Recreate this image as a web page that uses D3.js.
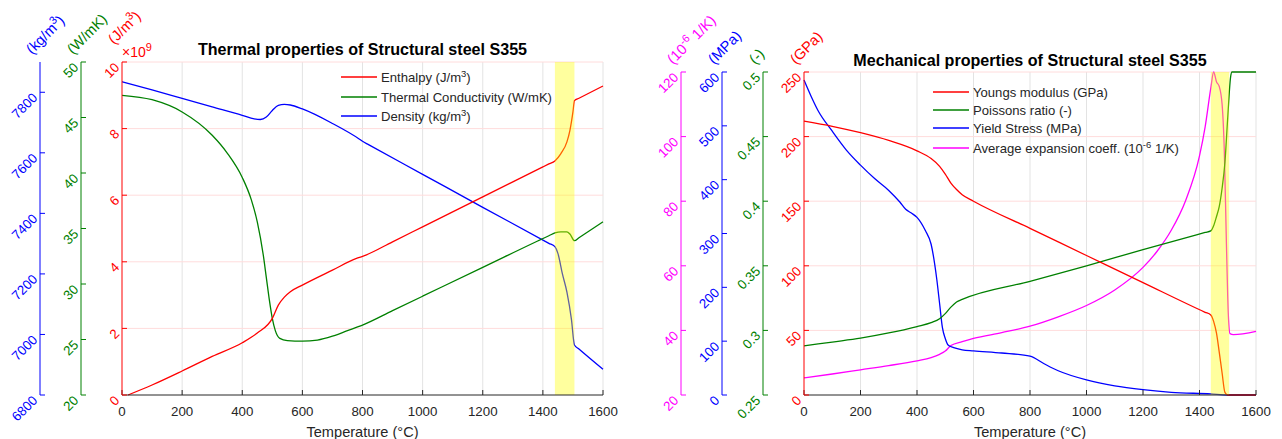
<!DOCTYPE html>
<html><head><meta charset="utf-8">
<script src="https://cdn.jsdelivr.net/npm/d3@7"></script>
<style>body{margin:0;background:#fff}svg{display:block;font-family:"Liberation Sans",Arial,sans-serif}</style>
</head><body><svg id="c" width="1282" height="439"></svg>
<script>
// ---------- data ----------
const xTicks = [0,200,400,600,800,1000,1200,1400,1600];
const meltRange = [1440, 1505];

// Thermal chart
const enthalpyT = [20,100,200,300,400,450,500,520,540,560,600,700,780,800,900,1000,1100,1200,1300,1400,1420,1440,1460,1480,1490,1500,1505,1520,1600];
const enthalpyV = [0,0.3,0.72,1.16,1.57,1.86,2.3,2.7,2.94,3.1,3.3,3.75,4.1,4.16,4.6,5.05,5.5,5.95,6.4,6.85,6.94,7.03,7.25,7.6,7.95,8.5,8.84,8.91,9.28];
const condT = [0,100,200,300,350,400,430,450,470,480,490,500,510,525,550,600,650,700,750,800,900,1000,1200,1420,1440,1460,1480,1490,1505,1520,1600];
const condV = [47.0,46.6,45.5,43.4,41.8,39.6,37.6,35.6,32.6,30.6,28.6,26.9,25.8,25.1,24.9,24.85,24.95,25.3,25.8,26.3,27.6,28.9,31.5,34.35,34.6,34.7,34.7,34.5,33.9,34.17,35.6];
const densT = [0,100,200,300,400,440,460,480,500,520,540,560,600,700,790,800,820,1000,1200,1420,1440,1450,1465,1480,1495,1505,1520,1600];
const densV = [7835,7808,7780,7752,7724,7712,7710,7718,7740,7757,7760,7758,7745,7697,7645,7638,7627,7529,7420,7301,7290,7268,7200,7140,7050,6965,6952,6885];
const enthalpyTicks = [0,2,4,6,8,10];
const condTicks = [20,25,30,35,40,45,50];
const densTicks = [6800,7000,7200,7400,7600,7800];

// Mechanical chart
const youngT = [0,100,200,300,400,450,480,500,520,540,560,600,800,1000,1200,1420,1440,1450,1460,1470,1480,1490,1500,1600];
const youngV = [212,208,203,197,189,183,177,171,164,159,155,150,129,108,87,64,62,57,48,33,17,2,0,0];
const poissonT = [0,100,200,300,400,450,480,500,520,540,560,800,1000,1200,1420,1440,1450,1460,1470,1480,1490,1500,1510,1515,1600];
const poissonV = [0.288,0.291,0.294,0.298,0.303,0.306,0.309,0.313,0.318,0.322,0.324,0.338,0.350,0.3625,0.3758,0.377,0.381,0.388,0.396,0.41,0.43,0.465,0.496,0.5,0.5];
const yieldT = [0,25,50,100,150,200,250,300,340,360,380,400,430,450,470,480,490,500,510,530,560,600,700,800,850,900,1000,1100,1200,1300,1440,1500,1600];
const yieldV = [585,555,528,490,455,427,402,380,358,345,338,330,305,280,215,170,125,105,93,88,84,82,78,72,58,45,28,17,10,5,2,0,0];
const expT = [0,100,200,300,400,450,480,500,520,560,600,700,800,900,1000,1100,1200,1250,1300,1350,1400,1420,1440,1450,1460,1470,1480,1488,1495,1502,1508,1520,1600];
const expV = [25.3,26.5,27.8,29.1,30.6,31.6,32.6,33.6,35.3,36.5,37.5,39.3,41.3,44.2,47.7,52.5,59.5,64.5,71,80,94,103,115,120,117,115.5,110,95,68,45,39,38.7,39.7];
const youngTicks = [0,50,100,150,200,250];
const poissonTicks = [0.25,0.3,0.35,0.4,0.45,0.5];
const yieldTicks = [0,100,200,300,400,500,600];
const expTicks = [20,40,60,80,100,120];

// ---------- drawing ----------
const svg = d3.select("#c");
const RED="#ff0000", GREEN="#008000", BLUE="#0000ff", MAG="#ff00ff", DARK="#262626";
const TICKFS = 13.3, UNITFS = 14.6;

function drawChart(cfg){
  const g = svg.append("g");
  const x = d3.scaleLinear().domain([0,1600]).range([cfg.x0,cfg.x1]);
  const mainY = d3.scaleLinear().domain(cfg.axes[cfg.axes.length-1].domain).range([cfg.bot,cfg.top]);
  // grids
  g.selectAll(".vg").data(xTicks.slice(1)).join("line")
    .attr("x1",d=>x(d)).attr("x2",d=>x(d)).attr("y1",cfg.top).attr("y2",cfg.bot)
    .attr("stroke","#e3e3e3").attr("stroke-width",1);
  g.selectAll(".hg").data(cfg.axes[cfg.axes.length-1].ticks.slice(1)).join("line")
    .attr("x1",cfg.x0).attr("x2",cfg.x1).attr("y1",d=>mainY(d)).attr("y2",d=>mainY(d))
    .attr("stroke","#ffdcdc").attr("stroke-width",1);
  // series
  cfg.axes.forEach(ax=>{
    const y = d3.scaleLinear().domain(ax.domain).range([cfg.bot,cfg.top]);
    ax.scale = y;
    ax.series.forEach(s=>{
      const pts = s.t.map((t,i)=>[t,s.v[i]]);
      g.append("path").datum(pts)
        .attr("d", d3.line().x(d=>x(d[0])).y(d=>y(d[1])).curve(d3.curveMonotoneX))
        .attr("fill","none").attr("stroke",s.color).attr("stroke-width",1.3);
    });
  });
  // melt band
  g.append("rect").attr("x",x(meltRange[0])).attr("width",x(meltRange[1])-x(meltRange[0]))
    .attr("y",cfg.top).attr("height",cfg.bot-cfg.top)
    .attr("fill","#ffff00").attr("opacity",0.38);
  // x axis
  g.append("line").attr("x1",cfg.x0).attr("x2",cfg.x1).attr("y1",cfg.bot).attr("y2",cfg.bot)
    .attr("stroke",DARK).attr("stroke-width",1);
  g.selectAll(".xt").data(xTicks).join("line")
    .attr("x1",d=>x(d)).attr("x2",d=>x(d)).attr("y1",cfg.bot).attr("y2",cfg.bot-5)
    .attr("stroke",DARK);
  g.selectAll(".xl").data(xTicks).join("text")
    .attr("x",d=>x(d)).attr("y",cfg.bot+21).attr("text-anchor","middle")
    .attr("font-size",TICKFS).attr("fill",DARK).text(d=>d);
  g.append("text").attr("x",(cfg.x0+cfg.x1)/2).attr("y",cfg.bot+42).attr("text-anchor","middle")
    .attr("font-size",14.6).attr("fill",DARK).text("Temperature (°C)");
  // y axes
  cfg.axes.forEach(ax=>{
    const y = ax.scale;
    g.append("line").attr("x1",ax.x).attr("x2",ax.x).attr("y1",cfg.top).attr("y2",cfg.bot)
      .attr("stroke",ax.color).attr("stroke-width",1);
    g.selectAll(null).data(ax.ticks).join("line")
      .attr("x1",ax.x).attr("x2",ax.x+5).attr("y1",d=>y(d)).attr("y2",d=>y(d))
      .attr("stroke",ax.color);
    g.selectAll(null).data(ax.ticks).join("text")
      .attr("transform",d=>`translate(${ax.x-5},${y(d)+3}) rotate(-45)`)
      .attr("text-anchor","end").attr("dominant-baseline","central")
      .attr("font-size",TICKFS).attr("fill",ax.color).text(d=>ax.fmt?ax.fmt(d):d);
    const ut = g.append("text")
      .attr("transform",`translate(${ax.x-8+(ax.udx||0)},${cfg.top-7+(ax.udy||0)}) rotate(-45)`)
      .attr("font-size",UNITFS).attr("fill",ax.color);
    ax.unit.forEach(p=>{
      const ts = ut.append("tspan").text(p.t);
      if(p.sup) ts.attr("font-size",UNITFS*0.75).attr("dy",-6);
      if(p.after) ts.attr("dy",6);
    });
    if(ax.exp){
      const e = g.append("text").attr("x",ax.x).attr("y",cfg.top-5).attr("font-size",14).attr("fill",ax.color);
      e.append("tspan").text("×10");
      e.append("tspan").text(ax.exp).attr("font-size",11).attr("dy",-6);
    }
  });
  // title
  g.append("text").attr("x",(cfg.x0+cfg.x1)/2).attr("y",cfg.titleY).attr("text-anchor","middle")
    .attr("font-size",16.1).attr("font-weight","bold").attr("fill","#000").text(cfg.title);
  // legend
  cfg.legend.items.forEach((it,i)=>{
    const yy = cfg.legend.rows[i];
    g.append("line").attr("x1",cfg.legend.x).attr("x2",cfg.legend.x+36).attr("y1",yy).attr("y2",yy)
      .attr("stroke",it.color).attr("stroke-width",1.3);
    const t = g.append("text").attr("x",cfg.legend.x+40).attr("y",yy+4.5).attr("font-size",13.1).attr("fill",DARK);
    it.parts.forEach(p=>{
      const ts = t.append("tspan").text(p.t);
      if(p.sup) ts.attr("font-size",9.5).attr("dy",-5);
      if(p.after) ts.attr("dy",5);
    });
  });
}

drawChart({
  x0:122, x1:603, top:62, bot:395, titleY:55,
  title:"Thermal properties of Structural steel S355",
  axes:[
    {x:40, domain:[6800,7900], ticks:densTicks, color:BLUE,
     unit:[{t:"(kg/m"},{t:"3",sup:true},{t:")",after:true}],
     series:[{t:densT,v:densV,color:BLUE}]},
    {x:81, domain:[20,50], ticks:condTicks, color:GREEN,
     unit:[{t:"(W/mK)"}],
     series:[{t:condT,v:condV,color:GREEN}]},
    {x:122, domain:[0,10], ticks:enthalpyTicks, color:RED, udy:-10, exp:"9",
     unit:[{t:"(J/m"},{t:"3",sup:true},{t:")",after:true}],
     series:[{t:enthalpyT,v:enthalpyV,color:RED}]}
  ],
  legend:{x:341, rows:[77,97,116], items:[
    {color:RED, parts:[{t:"Enthalpy (J/m"},{t:"3",sup:true},{t:")",after:true}]},
    {color:GREEN, parts:[{t:"Thermal Conductivity (W/mK)"}]},
    {color:BLUE, parts:[{t:"Density (kg/m"},{t:"3",sup:true},{t:")",after:true}]}
  ]}
});

drawChart({
  x0:804, x1:1256, top:72, bot:395, titleY:66,
  title:"Mechanical properties of Structural steel S355",
  axes:[
    {x:681, domain:[20,120], ticks:expTicks, color:MAG,
     unit:[{t:"(10"},{t:"-6",sup:true},{t:" 1/K)",after:true}],
     series:[{t:expT,v:expV,color:MAG}]},
    {x:722, domain:[0,600], ticks:yieldTicks, color:BLUE,
     unit:[{t:"(MPa)"}],
     series:[{t:yieldT,v:yieldV,color:BLUE}]},
    {x:763, domain:[0.25,0.5], ticks:poissonTicks, color:GREEN, fmt:d=>String(+d.toFixed(2)),
     unit:[{t:"(-)"}],
     series:[{t:poissonT,v:poissonV,color:GREEN}]},
    {x:804, domain:[0,250], ticks:youngTicks, color:RED,
     unit:[{t:"(GPa)"}],
     series:[{t:youngT,v:youngV,color:RED}]}
  ],
  legend:{x:933, rows:[92,110,128,148], items:[
    {color:RED, parts:[{t:"Youngs modulus (GPa)"}]},
    {color:GREEN, parts:[{t:"Poissons ratio (-)"}]},
    {color:BLUE, parts:[{t:"Yield Stress (MPa)"}]},
    {color:MAG, parts:[{t:"Average expansion coeff. (10"},{t:"-6",sup:true},{t:" 1/K)",after:true}]}
  ]}
});
</script></body></html>
